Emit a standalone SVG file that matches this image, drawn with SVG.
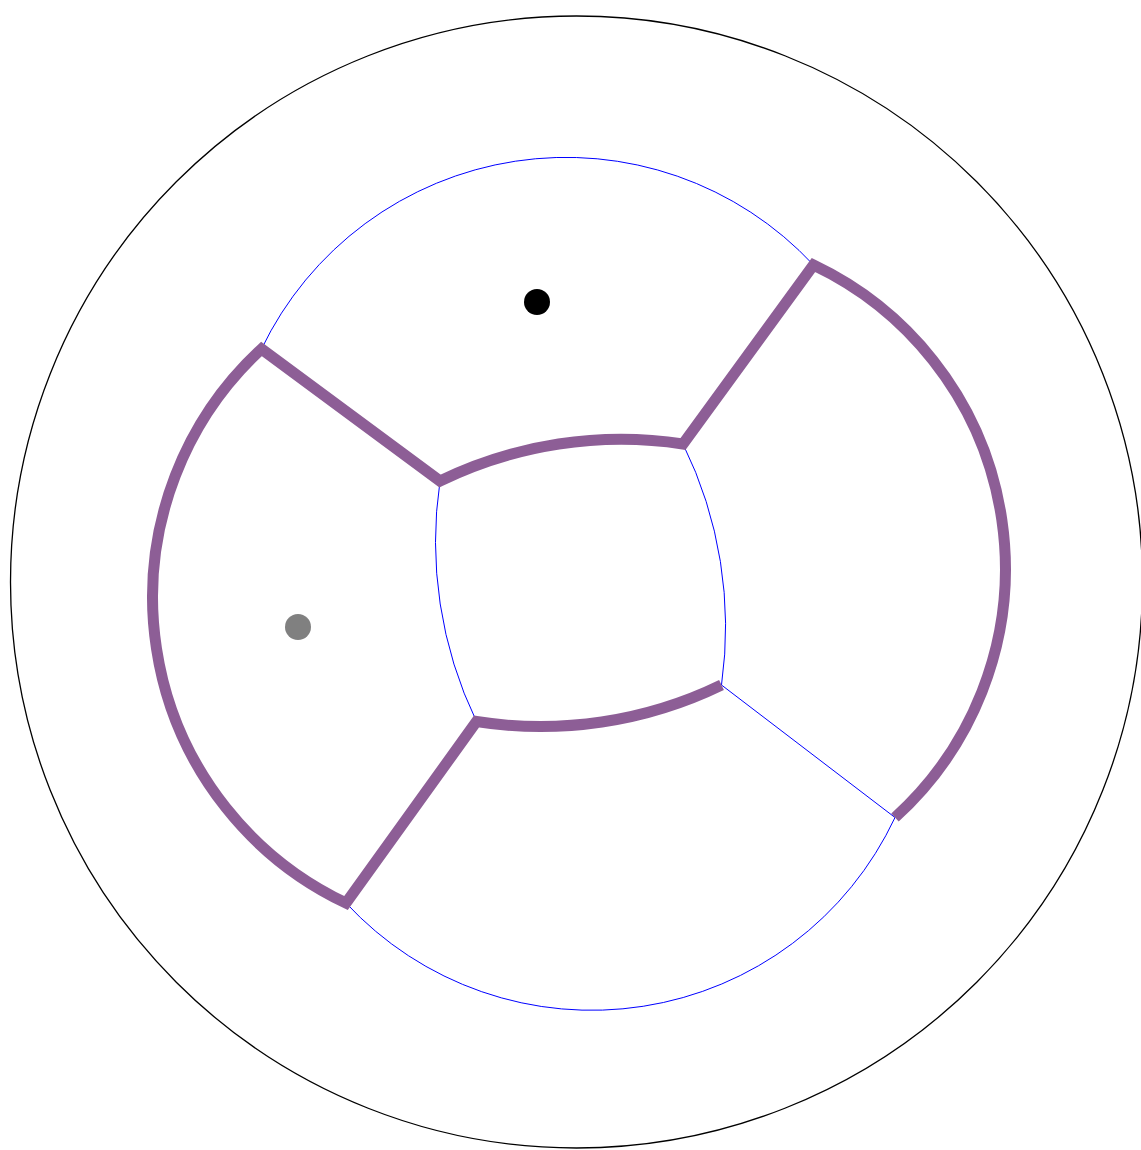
<svg xmlns="http://www.w3.org/2000/svg" width="1141" height="1150" viewBox="0 0 1141 1150">
  <style>
    .bound { fill: none; stroke: #000000; stroke-width: 1.3; }
    .thin { fill: none; stroke: #0000ff; stroke-width: 1; }
    .thick { fill: none; stroke: #8d5e96; stroke-width: 11; stroke-linejoin: miter; stroke-miterlimit: 10; stroke-linecap: butt; }
  </style>
  <rect width="1141" height="1150" fill="#ffffff"/>
  <g id="boundary">
    <circle class="bound" cx="576.5" cy="582" r="566"/>
  </g>
  <g id="connectors">
    <g id="blue-edges">
      <path class="thin" d="M 261.5 349 A 338 338 0 0 1 813.5 265"/>
      <path class="thin" d="M 346 903 A 335 335 0 0 0 895 817.5"/>
      <path class="thin" d="M 440 481 A 414 414 0 0 0 476.5 721.5"/>
      <path class="thin" d="M 683 444 A 414 414 0 0 1 721.5 685"/>
      <path class="thin" d="M 721.5 685 L 895 817.5"/>
    </g>
    <g id="purple-edges">
      <path class="thick" d="M 895 817.5 A 336 336 0 0 0 813.5 265 L 683 444 A 414 414 0 0 0 440 481 L 261.5 349 A 338 338 0 0 0 346 903 L 476.5 721.5 A 414 414 0 0 0 721.5 685"/>
    </g>
  </g>
  <g id="point-black">
    <circle cx="537" cy="302" r="13" fill="#000000"/>
  </g>
  <g id="point-gray">
    <circle cx="298" cy="627" r="13" fill="#808080"/>
  </g>
</svg>
